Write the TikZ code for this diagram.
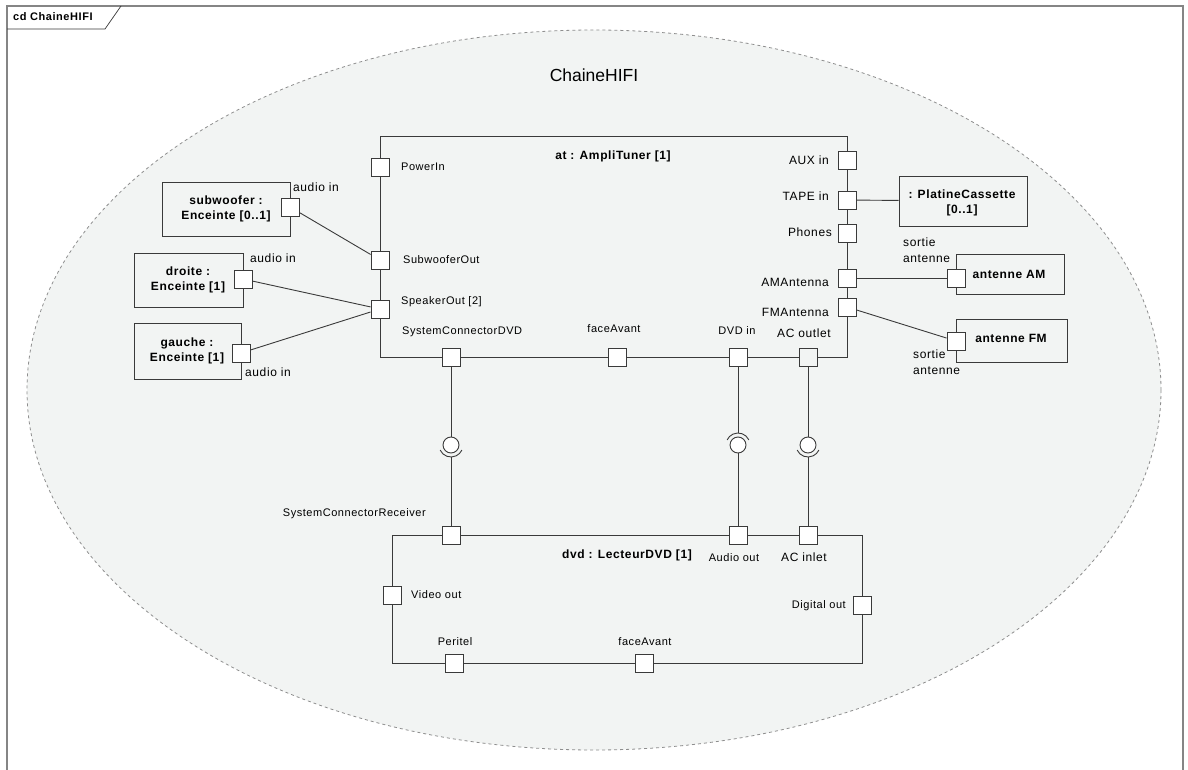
\documentclass[tikz,border=0pt]{standalone}
\usepackage{fontspec}
\setmainfont{Liberation Sans}
\usepackage{xcolor}
\usepackage{tikz}
\usetikzlibrary{positioning,calc}

\definecolor{bgfill}{HTML}{F2F4F3}
\definecolor{edge}{HTML}{3A3A3A}
\definecolor{framegray}{HTML}{858585}
\definecolor{dashgray}{HTML}{8E8E8E}

\begin{document}
\begin{tikzpicture}[x=1pt, y=-1pt,
    port/.style={draw=edge, fill=white, line width=0.9pt, minimum size=18pt, inner sep=0pt},
    part/.style={draw=edge, fill=bgfill, line width=0.9pt, inner sep=0pt},
    lbl/.style={font=\fontsize{11}{16}\selectfont\addfontfeature{LetterSpace=5}, inner sep=0pt, align=left},
    biglbl/.style={lbl, font=\fontsize{12}{16}\selectfont\addfontfeature{LetterSpace=5}},
    title/.style={font=\fontsize{12}{15}\selectfont\bfseries\addfontfeature{LetterSpace=5}, inner sep=0pt, align=center},
    wire/.style={draw=edge, line width=0.9pt},
    ball/.style={circle, draw=edge, fill=white, line width=0.9pt, minimum size=16pt, inner sep=0pt}]
\useasboundingbox (0,0) rectangle (1188,770);
\fill[white] (0,0) rectangle (1188,770);

% Frame and its tag
\draw[framegray, line width=1.6pt] (7,770) -- (7,6) -- (1183,6) -- (1183,770);
\draw[edge, line width=0.7pt] (7,29) -- (105,29) -- (121,6);
\node[anchor=west, inner sep=0pt, font=\fontsize{11}{12}\selectfont\bfseries\addfontfeature{LetterSpace=5}] (tag) at (13,17) {cd ChaineHIFI};

% Composite structure
\draw[dashgray, fill=bgfill, dash pattern=on 3pt off 3pt, line width=0.8pt]
    (594,390) ellipse [x radius=567pt, y radius=360pt];
\node[inner sep=0pt, font=\fontsize{17.5}{20}\selectfont] (chaine) at (594,75) {ChaineHIFI};

% AmpliTuner
\node[part, minimum width=467pt, minimum height=221pt] (at) at (613.5,246.5) {};
\node[title] (atT) at (613,156) {at : AmpliTuner [1]};
\node[port] (pPower) at (380,167) {};
\node[port] (pSubOut) at (380,260) {};
\node[port] (pSpk) at (380,309) {};
\node[port] (pAux) at (847,160) {};
\node[port] (pTape) at (847,200) {};
\node[port] (pPhones) at (847,233) {};
\node[port] (pAM) at (847,278) {};
\node[port] (pFM) at (847,307) {};
\node[port] (pSysDVD) at (451,357) {};
\node[port] (pFace) at (617,357) {};
\node[port] (pDVDin) at (738,357) {};
\node[port, fill=bgfill] (pACout) at (808,357) {};

\node[lbl, anchor=west] (lPower) at (401,167) {PowerIn};
\node[lbl, anchor=west] (lSubOut) at (403,260) {SubwooferOut};
\node[lbl, anchor=west] (lSpk) at (401,302) {SpeakerOut [2]};
\node[lbl, anchor=west] (lSysDVD) at (402,332) {SystemConnectorDVD};
\node[lbl] (lFace) at (614,329) {faceAvant};
\node[lbl] (lDVDin) at (737,331) {DVD in};
\node[biglbl] (lACout) at (804,333) {AC outlet};
\node[biglbl, anchor=east] (lAux) at (829,160) {AUX in};
\node[biglbl, anchor=east] (lTape) at (829,196) {TAPE in};
\node[biglbl, anchor=east] (lPhones) at (832,232) {Phones};
\node[biglbl, anchor=east] (lAM) at (829,282) {AMAntenna};
\node[biglbl, anchor=east] (lFM) at (829,312) {FMAntenna};

% Speakers
\node[part, minimum width=128pt, minimum height=54pt] (sub) at (226,209) {};
\node[title] at (226,209) {subwoofer :\\Enceinte [0..1]};
\node[port] (pSubIn) at (290,207) {};
\node[biglbl, anchor=west] at (293,187) {audio in};

\node[part, minimum width=109pt, minimum height=54pt] (droite) at (188.5,280) {};
\node[title] at (188,280) {droite :\\Enceinte [1]};
\node[port] (pDroite) at (243,279) {};
\node[biglbl, anchor=west] at (250,258) {audio in};

\node[part, minimum width=107pt, minimum height=56pt] (gauche) at (187.5,351) {};
\node[title] at (187,351) {gauche :\\Enceinte [1]};
\node[port] (pGauche) at (241,353) {};
\node[biglbl, anchor=west] at (245,372) {audio in};

% Cassette and antennas
\node[part, minimum width=128pt, minimum height=50pt] (platine) at (963,201) {};
\node[title] at (962,203) {: PlatineCassette\\{[0..1]}};

\node[part, minimum width=108pt, minimum height=40pt] (antAM) at (1010,274) {};
\node[title] at (1009,274) {antenne AM};
\node[port] (pAMout) at (956,278) {};
\node[biglbl, anchor=west] at (903,250) {sortie\\antenne};

\node[part, minimum width=111pt, minimum height=43pt] (antFM) at (1011.5,340.5) {};
\node[title] at (1011,338) {antenne FM};
\node[port] (pFMout) at (956,341) {};
\node[biglbl, anchor=west] at (913,362) {sortie\\antenne};

% LecteurDVD
\node[part, minimum width=470pt, minimum height=128pt] (dvd) at (627,599) {};
\node[title] (dvdT) at (627,555) {dvd : LecteurDVD [1]};
\node[port] (pRecv) at (451,535) {};
\node[port] (pAudio) at (738,535) {};
\node[port] (pACin) at (808,535) {};
\node[port] (pVideo) at (392,595) {};
\node[port] (pDigital) at (862,605) {};
\node[port] (pPeritel) at (454,663) {};
\node[port] (pFace2) at (644,663) {};

\node[lbl, anchor=east] (lRecv) at (426,514) {SystemConnectorReceiver};
\node[lbl] (lAudio) at (734,558) {Audio out};
\node[biglbl] (lACin) at (804,557) {AC inlet};
\node[lbl, anchor=west] (lVideo) at (411,595) {Video out};
\node[lbl, anchor=east] (lDigital) at (846,606) {Digital out};
\node[lbl] (lPeritel) at (455,642) {Peritel};
\node[lbl] (lFace2) at (645,642) {faceAvant};

% Assembly connectors
\draw[wire] (pSubIn) -- (pSubOut);
\draw[wire] (pDroite) -- (pSpk);
\draw[wire] (pGauche) -- (pSpk);
\draw[wire] (pTape) -- (platine);
\draw[wire] (pAM) -- (pAMout);
\draw[wire] (pFM) -- (pFMout);

% Ball and socket links
\node[ball] (ball1) at (451,445) {};
\coordinate (sk1) at ([yshift=-12pt]ball1.center);
\draw[wire] ([shift={(205:12pt)}]ball1.center) arc[start angle=205, end angle=335, radius=12pt];
\draw[wire] (pSysDVD) -- (ball1);
\draw[wire] (sk1) -- (pRecv);

\node[ball] (ball2) at (738,445) {};
\coordinate (sk2) at ([yshift=12pt]ball2.center);
\draw[wire] ([shift={(25:12pt)}]ball2.center) arc[start angle=25, end angle=155, radius=12pt];
\draw[wire] (pDVDin) -- (sk2);
\draw[wire] (ball2) -- (pAudio);

\node[ball] (ball3) at (808,445) {};
\coordinate (sk3) at ([yshift=-12pt]ball3.center);
\draw[wire] ([shift={(205:12pt)}]ball3.center) arc[start angle=205, end angle=335, radius=12pt];
\draw[wire] (pACout) -- (ball3);
\draw[wire] (sk3) -- (pACin);

\end{tikzpicture}
\end{document}
